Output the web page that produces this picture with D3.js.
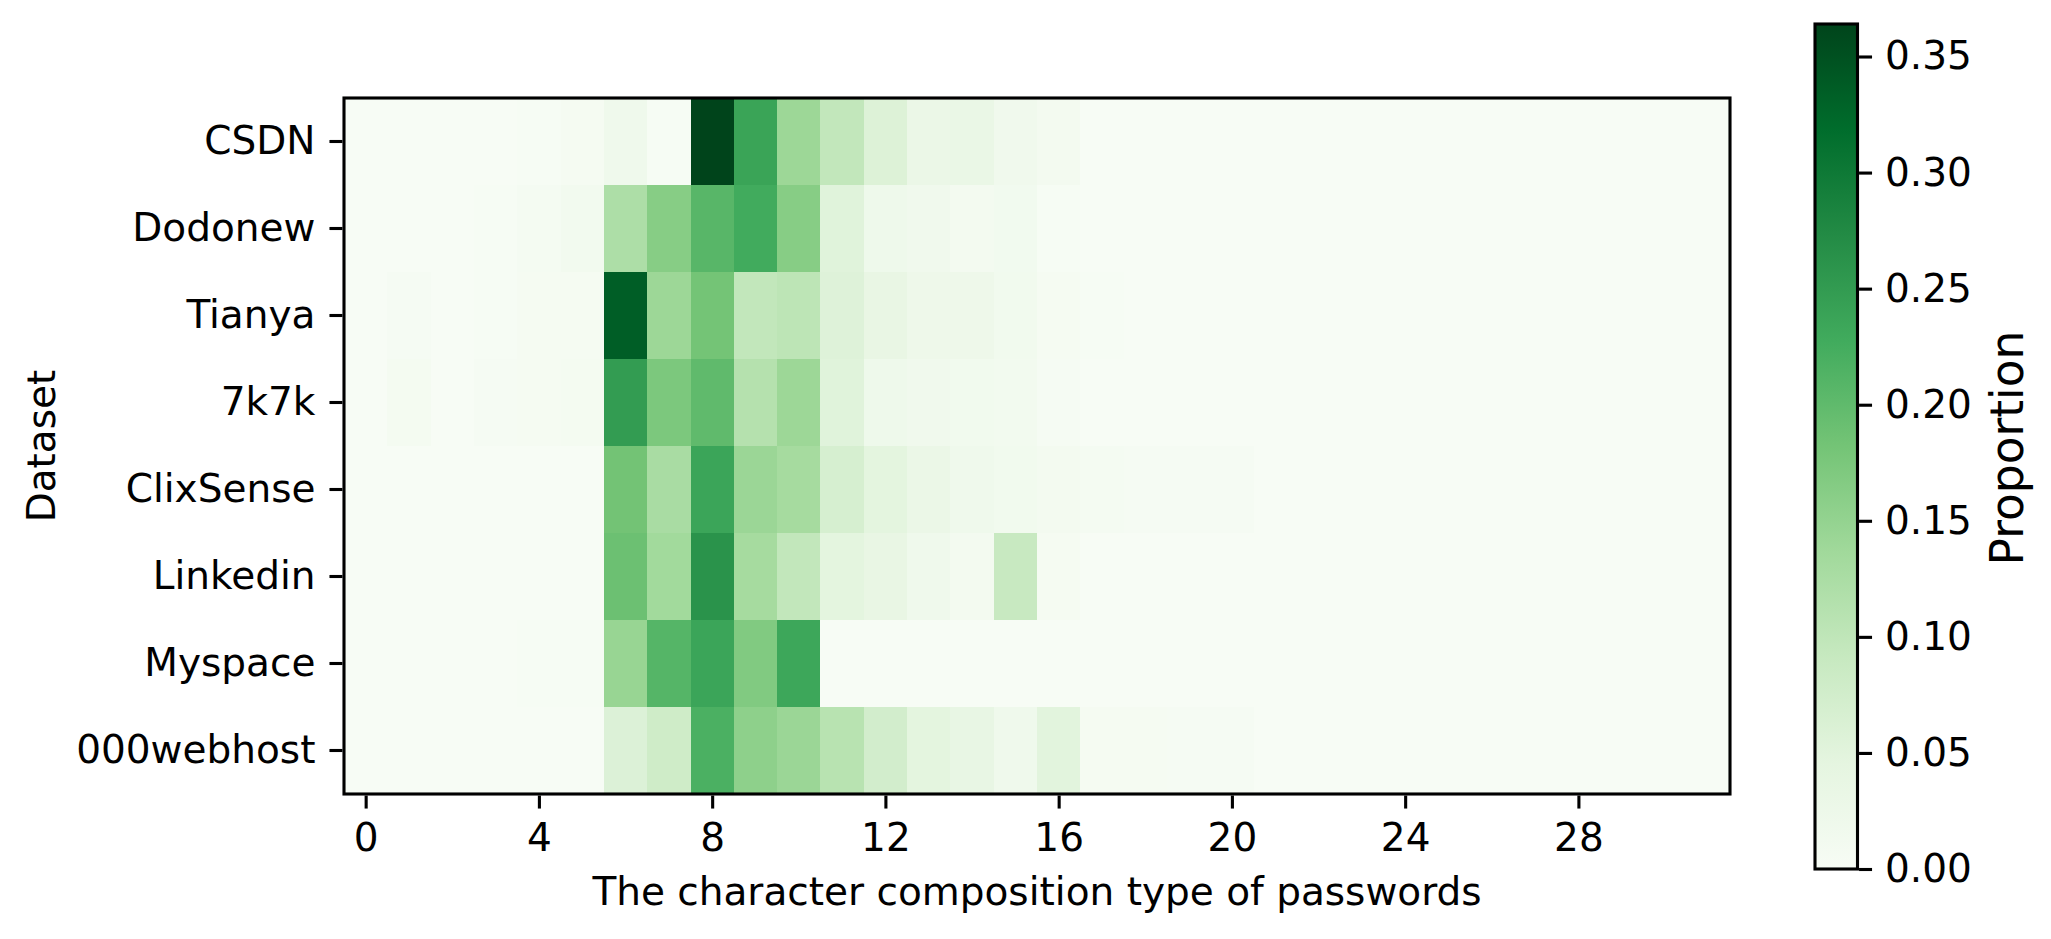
<!DOCTYPE html>
<html>
<head>
<meta charset="utf-8">
<script src="https://cdn.jsdelivr.net/npm/d3@7"></script>
<style>
  html, body { margin: 0; padding: 0; background: #ffffff; }
  svg { display: block; }
  text { font-family: "DejaVu Sans", sans-serif; fill: #000; }
</style>
</head>
<body>
<svg id="chart" width="2051" height="939"></svg>
<script>
// ---------------- data ----------------
const datasets = ["CSDN", "Dodonew", "Tianya", "7k7k", "ClixSense", "Linkedin", "Myspace", "000webhost"];
const compositionTypes = d3.range(32); // 0 .. 31
const xTickValues = [0, 4, 8, 12, 16, 20, 24, 28];
const colorbarTicks = [0.00, 0.05, 0.10, 0.15, 0.20, 0.25, 0.30, 0.35];

const csdn       = [0.001,0.001,0.001,0.001,0.002,0.006,0.020,0.003,0.364,0.238,0.141,0.097,0.058,0.030,0.032,0.017,0.010,0.001,0.001,0.001,0.001,0.001,0.001,0.001,0.001,0.001,0.001,0.001,0.001,0.001,0.001,0.001];
const dodonew    = [0.001,0.001,0.001,0.003,0.007,0.012,0.122,0.163,0.207,0.228,0.163,0.053,0.022,0.018,0.010,0.014,0.003,0.001,0.001,0.001,0.001,0.001,0.001,0.001,0.001,0.001,0.001,0.001,0.001,0.001,0.001,0.001];
const tianya     = [0.001,0.004,0.001,0.003,0.006,0.006,0.335,0.141,0.182,0.097,0.103,0.056,0.036,0.024,0.024,0.015,0.006,0.002,0.001,0.001,0.001,0.001,0.001,0.001,0.001,0.001,0.001,0.001,0.001,0.001,0.001,0.001];
const k7k7       = [0.001,0.008,0.001,0.004,0.006,0.008,0.249,0.174,0.200,0.113,0.141,0.053,0.022,0.018,0.016,0.012,0.004,0.001,0.001,0.001,0.001,0.001,0.001,0.001,0.001,0.001,0.001,0.001,0.001,0.001,0.001,0.001];
const clixsense  = [0.001,0.001,0.001,0.001,0.001,0.001,0.183,0.127,0.236,0.143,0.131,0.068,0.047,0.030,0.020,0.015,0.010,0.007,0.004,0.004,0.004,0.001,0.001,0.001,0.001,0.001,0.001,0.001,0.001,0.001,0.001,0.001];
const linkedin   = [0.001,0.001,0.001,0.001,0.001,0.001,0.189,0.135,0.262,0.131,0.097,0.047,0.036,0.020,0.011,0.090,0.006,0.001,0.001,0.001,0.001,0.001,0.001,0.001,0.001,0.001,0.001,0.001,0.001,0.001,0.001,0.001];
const myspace    = [0.001,0.001,0.001,0.001,0.003,0.003,0.146,0.210,0.236,0.169,0.233,0.001,0.001,0.001,0.001,0.001,0.001,0.001,0.001,0.001,0.001,0.001,0.001,0.001,0.001,0.001,0.001,0.001,0.001,0.001,0.001,0.001];
const webhost000 = [0.001,0.001,0.001,0.001,0.001,0.001,0.059,0.079,0.219,0.156,0.143,0.109,0.074,0.047,0.037,0.020,0.050,0.006,0.006,0.004,0.004,0.001,0.001,0.001,0.001,0.001,0.001,0.001,0.001,0.001,0.001,0.001];

const rows = [csdn, dodonew, tianya, k7k7, clixsense, linkedin, myspace, webhost000];

// ---------------- layout ----------------
const FS = 39;
const LW = 3.1;
const TICK = 13;
const plot = { left: 344, right: 1730, top: 98, bottom: 794 };
const cbar = { left: 1815, right: 1857.5, top: 24, bottom: 869 };

const greens = ["#f7fcf5","#e5f5e0","#c7e9c0","#a1d99b","#74c476","#41ab5d","#238b45","#006d2c","#00441b"];
const vmax = d3.max(rows, r => d3.max(r));
const color = d3.scaleLinear()
  .domain(greens.map((c, i) => i / (greens.length - 1) * vmax))
  .range(greens)
  .interpolate(d3.interpolateRgb)
  .clamp(true);

const svg = d3.select("#chart");
svg.append("rect").attr("width", 2051).attr("height", 939).attr("fill", "#fff");

const x = d3.scaleLinear().domain([-0.5, compositionTypes.length - 0.5]).range([plot.left, plot.right]);
const y = d3.scaleBand().domain(datasets).range([plot.top, plot.bottom]).padding(0);

// cells
const cells = [];
datasets.forEach((name, ri) => {
  rows[ri].forEach((v, ci) => cells.push({ name, t: compositionTypes[ci], v }));
});
svg.append("g").selectAll("rect").data(cells).join("rect")
  .attr("x", d => x(d.t - 0.5))
  .attr("y", d => y(d.name))
  .attr("width", d => x(d.t + 0.5) - x(d.t - 0.5) + 0.5)
  .attr("height", y.bandwidth() + 0.5)
  .attr("fill", d => color(d.v))
  .attr("shape-rendering", "crispEdges");

// frame
svg.append("rect")
  .attr("x", plot.left).attr("y", plot.top)
  .attr("width", plot.right - plot.left).attr("height", plot.bottom - plot.top)
  .attr("fill", "none").attr("stroke", "#000").attr("stroke-width", LW);

// x axis
const xAxis = svg.append("g")
  .attr("transform", `translate(0,${plot.bottom + LW / 2})`)
  .call(d3.axisBottom(x).tickValues(xTickValues).tickSize(TICK).tickPadding(15).tickFormat(d3.format("d")));
xAxis.select(".domain").remove();
xAxis.selectAll(".tick line").attr("stroke", "#000").attr("stroke-width", LW);
xAxis.selectAll(".tick text").attr("font-size", FS).attr("font-family", "DejaVu Sans");

// y axis
const yAxis = svg.append("g")
  .attr("transform", `translate(${plot.left - LW / 2},0)`)
  .call(d3.axisLeft(y).tickSize(TICK).tickPadding(14));
yAxis.select(".domain").remove();
yAxis.selectAll(".tick line").attr("stroke", "#000").attr("stroke-width", LW);
yAxis.selectAll(".tick text").attr("font-size", FS).attr("font-family", "DejaVu Sans");

// axis titles
svg.append("text")
  .attr("x", (plot.left + plot.right) / 2).attr("y", 905)
  .attr("text-anchor", "middle").attr("font-size", FS)
  .text("The character composition type of passwords");
svg.append("text")
  .attr("transform", `translate(55,${(plot.top + plot.bottom) / 2}) rotate(-90)`)
  .attr("text-anchor", "middle").attr("font-size", FS)
  .text("Dataset");

// colorbar
const defs = svg.append("defs");
const grad = defs.append("linearGradient").attr("id", "cbgrad")
  .attr("x1", 0).attr("y1", 1).attr("x2", 0).attr("y2", 0);
greens.forEach((c, i) => grad.append("stop").attr("offset", i / (greens.length - 1)).attr("stop-color", c));

svg.append("rect")
  .attr("x", cbar.left).attr("y", cbar.top)
  .attr("width", cbar.right - cbar.left).attr("height", cbar.bottom - cbar.top)
  .attr("fill", "url(#cbgrad)");
svg.append("rect")
  .attr("x", cbar.left).attr("y", cbar.top)
  .attr("width", cbar.right - cbar.left).attr("height", cbar.bottom - cbar.top)
  .attr("fill", "none").attr("stroke", "#000").attr("stroke-width", LW);

const cy = d3.scaleLinear().domain([0, vmax]).range([cbar.bottom, cbar.top]);
const cAxis = svg.append("g")
  .attr("transform", `translate(${cbar.right + LW / 2},0)`)
  .call(d3.axisRight(cy).tickValues(colorbarTicks).tickSize(TICK).tickPadding(13).tickFormat(d3.format(".2f")));
cAxis.select(".domain").remove();
cAxis.selectAll(".tick line").attr("stroke", "#000").attr("stroke-width", LW);
cAxis.selectAll(".tick text").attr("font-size", FS).attr("font-family", "DejaVu Sans");

svg.append("text")
  .attr("transform", `translate(2023,448) rotate(-90)`)
  .attr("text-anchor", "middle").attr("font-size", 45.5)
  .text("Proportion");
</script>
</body>
</html>
